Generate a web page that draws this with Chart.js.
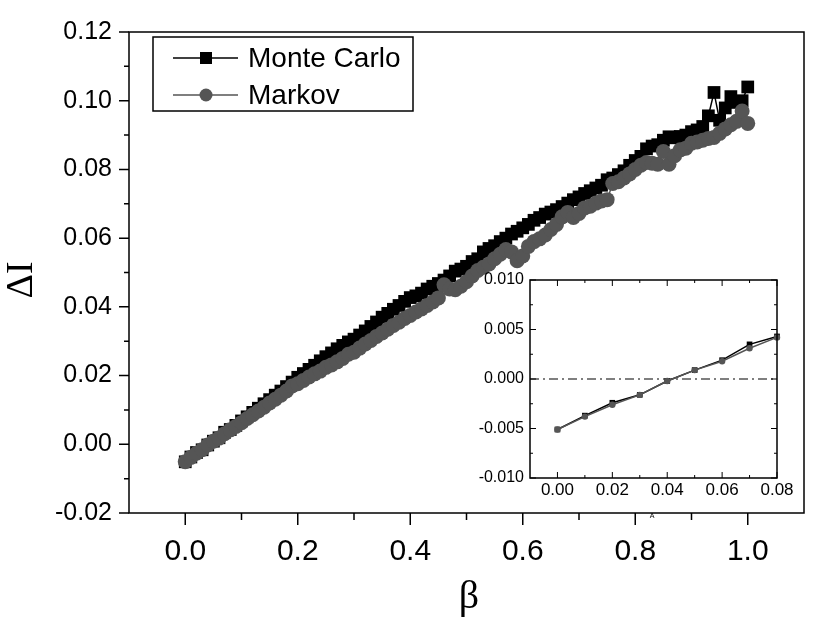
<!DOCTYPE html>
<html>
<head>
<meta charset="utf-8">
<script src="https://cdn.jsdelivr.net/npm/chart.js@4.4.1/dist/chart.umd.min.js"></script>
<style>
  body { margin: 0; background: #fff; }
  #wrap { position: relative; width: 813px; height: 618px; }
  #main { position: absolute; left: 0; top: 0; }
  #inset { position: absolute; left: 460px; top: 262px; }
</style>
</head>
<body>
<div id="wrap">
  <canvas id="main" width="813" height="618"></canvas>
  <canvas id="inset" width="340" height="250"></canvas>
</div>
<script>
const betas = [
  0.00, 0.01, 0.02, 0.03, 0.04, 0.05, 0.06, 0.07, 0.08, 0.09,
  0.10, 0.11, 0.12, 0.13, 0.14, 0.15, 0.16, 0.17, 0.18, 0.19,
  0.20, 0.21, 0.22, 0.23, 0.24, 0.25, 0.26, 0.27, 0.28, 0.29,
  0.30, 0.31, 0.32, 0.33, 0.34, 0.35, 0.36, 0.37, 0.38, 0.39,
  0.40, 0.41, 0.42, 0.43, 0.44, 0.45, 0.46, 0.47, 0.48, 0.49,
  0.50, 0.51, 0.52, 0.53, 0.54, 0.55, 0.56, 0.57, 0.58, 0.59,
  0.60, 0.61, 0.62, 0.63, 0.64, 0.65, 0.66, 0.67, 0.68, 0.69,
  0.70, 0.71, 0.72, 0.73, 0.74, 0.75, 0.76, 0.77, 0.78, 0.79,
  0.80, 0.81, 0.82, 0.83, 0.84, 0.85, 0.86, 0.87, 0.88, 0.89,
  0.90, 0.91, 0.92, 0.93, 0.94, 0.95, 0.96, 0.97, 0.98, 0.99,
  1.00
];

const monteCarlo = [
  -0.0051, -0.0037, -0.0024, -0.0016, -0.0002, 0.0009, 0.0019, 0.0035, 0.0043, 0.0055,
  0.0068, 0.0080, 0.0093, 0.0105, 0.0118, 0.0130, 0.0143, 0.0155, 0.0168, 0.0181,
  0.0195, 0.0206, 0.0218, 0.0230, 0.0243, 0.0255, 0.0266, 0.0278, 0.0288, 0.0298,
  0.0306, 0.0318, 0.0330, 0.0343, 0.0356, 0.0370, 0.0381, 0.0393, 0.0404, 0.0416,
  0.0427, 0.0432, 0.0440, 0.0452, 0.0460, 0.0468, 0.0478, 0.0490, 0.0504, 0.0510,
  0.0518, 0.0532, 0.0540, 0.0560, 0.0570, 0.0578, 0.0590, 0.0600, 0.0612, 0.0620,
  0.0630, 0.0640, 0.0652, 0.0660, 0.0670, 0.0676, 0.0683, 0.0692, 0.0702, 0.0712,
  0.0720, 0.0730, 0.0738, 0.0746, 0.0754, 0.0770, 0.0775, 0.0785, 0.0796, 0.0812,
  0.0826, 0.0838, 0.0860, 0.0868, 0.0872, 0.0885, 0.0895, 0.0892, 0.0896, 0.0900,
  0.0910, 0.0915, 0.0925, 0.0956, 0.1024, 0.0943, 0.0979, 0.1012, 0.0995, 0.1000,
  0.1040
];

const markov = [
  -0.0051, -0.0038, -0.0026, -0.0016, -0.0002, 0.0009, 0.0018, 0.0031, 0.0042, 0.0052,
  0.0063, 0.0075, 0.0086, 0.0097, 0.0108, 0.0120, 0.0131, 0.0143, 0.0155, 0.0170,
  0.0176, 0.0186, 0.0196, 0.0205, 0.0213, 0.0224, 0.0231, 0.0240, 0.0250, 0.0262,
  0.0268, 0.0280, 0.0292, 0.0302, 0.0314, 0.0324, 0.0335, 0.0346, 0.0355, 0.0366,
  0.0375, 0.0385, 0.0394, 0.0404, 0.0414, 0.0426, 0.0464, 0.0452, 0.0450, 0.0460,
  0.0473, 0.0490, 0.0506, 0.0515, 0.0525, 0.0540, 0.0553, 0.0567, 0.0560, 0.0534,
  0.0548, 0.0576, 0.0590, 0.0598, 0.0609, 0.0625, 0.0640, 0.0662, 0.0675, 0.0660,
  0.0672, 0.0688, 0.0693, 0.0702, 0.0708, 0.0712, 0.0759, 0.0764, 0.0775, 0.0787,
  0.0800, 0.0812, 0.0820, 0.0818, 0.0815, 0.0852, 0.0815, 0.0840, 0.0857, 0.0862,
  0.0876, 0.0880, 0.0885, 0.0890, 0.0893, 0.0905, 0.0918, 0.0930, 0.0940, 0.0970,
  0.0934
];

// main axes
const xTicks = [0, 0.2, 0.4, 0.6, 0.8, 1.0];
const xMinorTicks = [0.1, 0.3, 0.5, 0.7, 0.9];
const yTicks = [-0.02, 0, 0.02, 0.04, 0.06, 0.08, 0.10, 0.12];
const yMinorTicks = [-0.01, 0.01, 0.03, 0.05, 0.07, 0.09, 0.11];

// inset: first points of both series
const insetCount = 9;
const insetXTicks = [0, 0.02, 0.04, 0.06, 0.08];
const insetXMinorTicks = [0.01, 0.03, 0.05, 0.07];
const insetYTicks = [-0.01, -0.005, 0, 0.005, 0.01];
const insetYMinorTicks = [-0.0075, -0.0025, 0.0025, 0.0075];

const black = '#000000';
const gray = '#555555';

function toPoints(xs, ys, n) {
  return ys.slice(0, n).map((v, i) => ({ x: xs[i], y: v }));
}

function setTicks(values) {
  return scale => { scale.ticks = values.map(v => ({ value: v })); };
}

// tick marks: side = where the axis is, dir = +1 outward, -1 inward
function drawTickMarks(ctx, area, scale, values, len, side, dir) {
  ctx.beginPath();
  values.forEach(v => {
    const p = scale.getPixelForValue(v);
    if (side === 'bottom') { ctx.moveTo(p, area.bottom); ctx.lineTo(p, area.bottom + dir * len); }
    if (side === 'top') { ctx.moveTo(p, area.top); ctx.lineTo(p, area.top - dir * len); }
    if (side === 'left') { ctx.moveTo(area.left, p); ctx.lineTo(area.left - dir * len, p); }
    if (side === 'right') { ctx.moveTo(area.right, p); ctx.lineTo(area.right + dir * len, p); }
  });
  ctx.stroke();
}

const mainDecor = {
  id: 'mainDecor',
  afterDraw(chart) {
    const { ctx, chartArea: a, scales: { x, y } } = chart;
    ctx.save();
    ctx.strokeStyle = black;
    ctx.lineWidth = 1.5;
    ctx.strokeRect(a.left, a.top, a.right - a.left, a.bottom - a.top);
    drawTickMarks(ctx, a, x, xTicks, 12, 'bottom', 1);
    drawTickMarks(ctx, a, x, xMinorTicks, 7, 'bottom', 1);
    drawTickMarks(ctx, a, y, yTicks, 10, 'left', 1);
    drawTickMarks(ctx, a, y, yMinorTicks, 5, 'left', 1);

    // legend box
    ctx.lineWidth = 1.5;
    ctx.strokeRect(153, 37, 260, 74);
    const rows = [
      { label: 'Monte Carlo', color: black, y: 58, square: true },
      { label: 'Markov', color: gray, y: 95, square: false }
    ];
    rows.forEach(r => {
      ctx.strokeStyle = r.color;
      ctx.fillStyle = r.color;
      ctx.lineWidth = 1.5;
      ctx.beginPath();
      ctx.moveTo(173, r.y);
      ctx.lineTo(238, r.y);
      ctx.stroke();
      if (r.square) {
        ctx.fillRect(200, r.y - 6, 12, 12);
      } else {
        ctx.beginPath();
        ctx.arc(206, r.y, 6.5, 0, Math.PI * 2);
        ctx.fill();
      }
      ctx.fillStyle = black;
      ctx.font = '28px "Liberation Sans", Arial, sans-serif';
      ctx.textAlign = 'left';
      ctx.textBaseline = 'middle';
      ctx.fillText(r.label, 248, r.y + 1);
    });

    // axis titles
    ctx.fillStyle = black;
    ctx.textAlign = 'center';
    ctx.textBaseline = 'middle';
    ctx.font = '40px "Liberation Serif", "DejaVu Serif", serif';
    ctx.fillText('β', 469, 597);
    ctx.save();
    ctx.translate(22, 280);
    ctx.rotate(-Math.PI / 2);
    ctx.font = '38px "Liberation Serif", "DejaVu Serif", serif';
    ctx.fillText('ΔI', 0, 0);
    ctx.restore();

    ctx.font = '7px "Liberation Sans", Arial, sans-serif';
    ctx.fillText('A', 652, 516);
    ctx.restore();
  }
};

new Chart(document.getElementById('main'), {
  type: 'line',
  data: {
    datasets: [
      {
        label: 'Markov',
        data: toPoints(betas, markov, betas.length),
        borderColor: gray,
        backgroundColor: gray,
        borderWidth: 1.5,
        pointStyle: 'circle',
        pointRadius: 7.5,
        pointBorderWidth: 0,
        order: 0
      },
      {
        label: 'Monte Carlo',
        data: toPoints(betas, monteCarlo, betas.length),
        borderColor: black,
        backgroundColor: black,
        borderWidth: 1.5,
        pointStyle: 'rect',
        pointRadius: 9,
        pointBorderWidth: 0,
        order: 1
      }
    ]
  },
  options: {
    responsive: false,
    animation: false,
    devicePixelRatio: 1,
    layout: { padding: { top: 13, right: 5, left: 0, bottom: 0 } },
    plugins: { legend: { display: false }, tooltip: { enabled: false } },
    scales: {
      x: {
        type: 'linear',
        min: -0.1,
        max: 1.1,
        afterBuildTicks: setTicks(xTicks),
        afterFit: s => { s.height = 105; },
        grid: { display: false, drawTicks: false },
        border: { display: false },
        ticks: {
          color: black,
          padding: 21,
          maxRotation: 0,
          autoSkip: false,
          font: { family: '"Liberation Sans", Arial, sans-serif', size: 30 },
          callback: v => v.toFixed(1)
        }
      },
      y: {
        type: 'linear',
        min: -0.02,
        max: 0.12,
        afterBuildTicks: setTicks(yTicks),
        afterFit: s => { s.width = 129; },
        grid: { display: false, drawTicks: false },
        border: { display: false },
        ticks: {
          color: black,
          padding: 17,
          autoSkip: false,
          font: { family: '"Liberation Sans", Arial, sans-serif', size: 25 },
          callback: v => v.toFixed(2)
        }
      }
    }
  },
  plugins: [mainDecor]
});

const insetDecor = {
  id: 'insetDecor',
  beforeDraw(chart) {
    const { ctx, chartArea: a } = chart;
    ctx.save();
    ctx.fillStyle = '#ffffff';
    ctx.fillRect(a.left, a.top, a.right - a.left, a.bottom - a.top);
    ctx.restore();
  },
  beforeDatasetsDraw(chart) {
    const { ctx, chartArea: a, scales: { y } } = chart;
    const p = y.getPixelForValue(0);
    ctx.save();
    ctx.strokeStyle = black;
    ctx.lineWidth = 1.2;
    ctx.setLineDash([9, 4, 2, 4]);
    ctx.beginPath();
    ctx.moveTo(a.left, p);
    ctx.lineTo(a.right, p);
    ctx.stroke();
    ctx.restore();
  },
  afterDraw(chart) {
    const { ctx, chartArea: a, scales: { x, y } } = chart;
    ctx.save();
    ctx.strokeStyle = black;
    ctx.lineWidth = 1.5;
    ctx.strokeRect(a.left, a.top, a.right - a.left, a.bottom - a.top);
    ctx.lineWidth = 1;
    ['bottom', 'top'].forEach(side => {
      drawTickMarks(ctx, a, x, insetXTicks, 6, side, -1);
      drawTickMarks(ctx, a, x, insetXMinorTicks, 3, side, -1);
    });
    ['left', 'right'].forEach(side => {
      drawTickMarks(ctx, a, y, insetYTicks, 6, side, -1);
      drawTickMarks(ctx, a, y, insetYMinorTicks, 3, side, -1);
    });
    ctx.restore();
  }
};

new Chart(document.getElementById('inset'), {
  type: 'line',
  data: {
    datasets: [
      {
        label: 'Markov',
        data: toPoints(betas, markov, insetCount),
        borderColor: gray,
        backgroundColor: gray,
        borderWidth: 1.5,
        pointStyle: 'circle',
        pointRadius: 3.2,
        pointBorderWidth: 0,
        clip: 8,
        order: 0
      },
      {
        label: 'Monte Carlo',
        data: toPoints(betas, monteCarlo, insetCount),
        borderColor: black,
        backgroundColor: black,
        borderWidth: 1.5,
        pointStyle: 'rect',
        pointRadius: 4,
        pointBorderWidth: 0,
        clip: 8,
        order: 1
      }
    ]
  },
  options: {
    responsive: false,
    animation: false,
    devicePixelRatio: 1,
    layout: { padding: { top: 18, right: 23, left: 0, bottom: 0 } },
    plugins: { legend: { display: false }, tooltip: { enabled: false } },
    scales: {
      x: {
        type: 'linear',
        min: -0.01,
        max: 0.08,
        afterBuildTicks: setTicks(insetXTicks),
        afterFit: s => { s.height = 34; },
        grid: { display: false, drawTicks: false },
        border: { display: false },
        ticks: {
          color: black,
          padding: 2,
          maxRotation: 0,
          autoSkip: false,
          font: { family: '"Liberation Sans", Arial, sans-serif', size: 17 },
          callback: v => v.toFixed(2)
        }
      },
      y: {
        type: 'linear',
        min: -0.01,
        max: 0.01,
        afterBuildTicks: setTicks(insetYTicks),
        afterFit: s => { s.width = 70; },
        grid: { display: false, drawTicks: false },
        border: { display: false },
        ticks: {
          color: black,
          padding: 6,
          autoSkip: false,
          font: { family: '"Liberation Sans", Arial, sans-serif', size: 16 },
          callback: v => v.toFixed(3)
        }
      }
    }
  },
  plugins: [insetDecor]
});
</script>
</body>
</html>
